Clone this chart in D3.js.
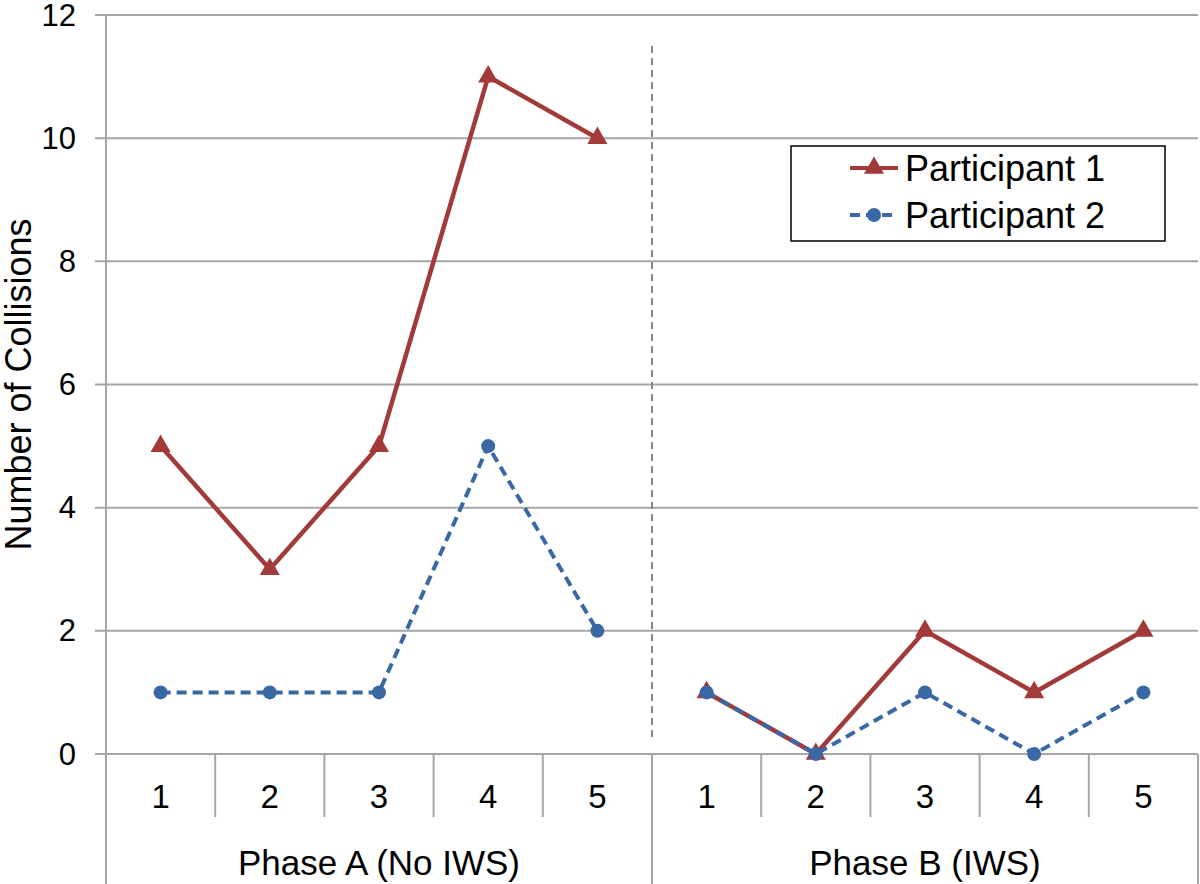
<!DOCTYPE html>
<html>
<head>
<meta charset="utf-8">
<script src="https://cdn.jsdelivr.net/npm/d3@7"></script>
<style>
  html, body { margin: 0; padding: 0; background: #fff; }
  svg { display: block; font-family: "Liberation Sans", Arial, Helvetica, sans-serif; }
</style>
</head>
<body>
<svg id="chart" width="1200" height="884"></svg>
<script>
// ---- Data ----
const phases = ["Phase A (No IWS)", "Phase B (IWS)"];
const sessions = ["1", "2", "3", "4", "5"];
const participant1A = [5, 3, 5, 11, 10];
const participant1B = [1, 0, 2, 1, 2];
const participant2A = [1, 1, 1, 5, 2];
const participant2B = [1, 0, 1, 0, 1];
const seriesNames = ["Participant 1", "Participant 2"];
const yTicks = [0, 2, 4, 6, 8, 10, 12];
const yTitle = "Number of Collisions";

(function () {
// ---- Layout ----
const W = 1200, H = 884;
const pLeft = 106, pRight = 1198, pTop = 15, pBottom = 754;
const red = "#a33a3a", blue = "#3a68a4", grid = "#a6a6a6";

const svg = d3.select("#chart");

const keys = [];
phases.forEach((p, pi) => sessions.forEach(s => keys.push(pi + "-" + s)));

const x = d3.scaleBand().domain(keys).range([pLeft, pRight]).padding(0);
const xPhase = d3.scaleBand().domain(phases).range([pLeft, pRight]).padding(0);
const y = d3.scaleLinear().domain([0, 12]).range([pBottom, pTop]);

// gridlines + y ticks
svg.append("g").selectAll("line").data(yTicks).join("line")
  .attr("x1", pLeft - 11).attr("x2", pRight)
  .attr("y1", d => y(d)).attr("y2", d => y(d))
  .attr("stroke", grid).attr("stroke-width", 2);

svg.append("g").selectAll("text").data(yTicks).join("text")
  .attr("x", 76).attr("y", d => y(d)).attr("dy", "0.34em")
  .attr("text-anchor", "end").attr("font-size", 31).attr("fill", "#000")
  .text(d => d);

// left axis line
svg.append("line").attr("x1", pLeft).attr("x2", pLeft).attr("y1", pTop).attr("y2", H)
  .attr("stroke", grid).attr("stroke-width", 2);

// category separators below axis
const catBounds = [];
phases.forEach((p, pi) => sessions.forEach((s, si) => { if (si > 0) catBounds.push(x(pi + "-" + s)); }));
svg.append("g").selectAll("line").data(catBounds).join("line")
  .attr("x1", d => d).attr("x2", d => d).attr("y1", pBottom).attr("y2", 817)
  .attr("stroke", grid).attr("stroke-width", 2);

// phase separators
const phaseBounds = phases.map(p => xPhase(p) + xPhase.bandwidth());
svg.append("g").selectAll("line").data(phaseBounds).join("line")
  .attr("x1", d => d).attr("x2", d => d).attr("y1", pBottom).attr("y2", H)
  .attr("stroke", grid).attr("stroke-width", 2);

// category labels
svg.append("g").selectAll("text").data(keys).join("text")
  .attr("x", d => x(d) + x.bandwidth() / 2).attr("y", 808)
  .attr("text-anchor", "middle").attr("font-size", 33).attr("fill", "#000")
  .text(d => d.split("-")[1]);

// phase labels
svg.append("g").selectAll("text").data(phases).join("text")
  .attr("x", d => xPhase(d) + xPhase.bandwidth() / 2).attr("y", 875)
  .attr("text-anchor", "middle").attr("font-size", 35).attr("fill", "#000")
  .text(d => d);

// y title
svg.append("text")
  .attr("transform", `translate(31, ${(pTop + pBottom) / 2}) rotate(-90)`)
  .attr("text-anchor", "middle").attr("font-size", 36).attr("fill", "#000")
  .text(yTitle);

// phase divider (dashed)
const divX = xPhase(phases[1]);
svg.append("line").attr("x1", divX).attr("x2", divX).attr("y1", 46).attr("y2", 742)
  .attr("stroke", "#888").attr("stroke-width", 2).attr("stroke-dasharray", "7,5");

// series
const cx = (pi, i) => x(pi + "-" + sessions[i]) + x.bandwidth() / 2;
const line = d3.line().x(d => d[0]).y(d => y(d[1]));
const triangle = d3.symbol().type(d3.symbolTriangle).size(175);

const p1 = [participant1A, participant1B];
const p2 = [participant2A, participant2B];

// Participant 1
p1.forEach((vals, pi) => {
  const pts = vals.map((v, i) => [cx(pi, i), v]);
  svg.append("path").attr("d", line(pts)).attr("fill", "none")
    .attr("stroke", red).attr("stroke-width", 4.5).attr("stroke-linejoin", "round");
});
p1.forEach((vals, pi) => {
  svg.append("g").selectAll("path").data(vals).join("path")
    .attr("d", triangle())
    .attr("transform", (v, i) => `translate(${cx(pi, i)},${y(v)})`)
    .attr("fill", red);
});

// Participant 2
p2.forEach((vals, pi) => {
  const pts = vals.map((v, i) => [cx(pi, i), v]);
  svg.append("path").attr("d", line(pts)).attr("fill", "none")
    .attr("stroke", blue).attr("stroke-width", 4).attr("stroke-dasharray", "10,6");
});
p2.forEach((vals, pi) => {
  svg.append("g").selectAll("circle").data(vals).join("circle")
    .attr("cx", (v, i) => cx(pi, i)).attr("cy", v => y(v)).attr("r", 7)
    .attr("fill", blue);
});

// legend
const lg = svg.append("g");
lg.append("rect").attr("x", 791).attr("y", 146).attr("width", 374).attr("height", 95)
  .attr("fill", "#fff").attr("stroke", "#000").attr("stroke-width", 1.5);
const rows = [168, 215];
lg.append("line").attr("x1", 850).attr("x2", 898).attr("y1", rows[0]).attr("y2", rows[0])
  .attr("stroke", red).attr("stroke-width", 4);
lg.append("path").attr("d", triangle()).attr("transform", `translate(874,${rows[0]})`).attr("fill", red);
lg.append("text").attr("x", 905).attr("y", rows[0] + 13).attr("font-size", 36).text(seriesNames[0]);
lg.append("line").attr("x1", 850).attr("x2", 898).attr("y1", rows[1]).attr("y2", rows[1])
  .attr("stroke", blue).attr("stroke-width", 4).attr("stroke-dasharray", "10,6");
lg.append("circle").attr("cx", 874).attr("cy", rows[1]).attr("r", 7).attr("fill", blue);
lg.append("text").attr("x", 905).attr("y", rows[1] + 13).attr("font-size", 36).text(seriesNames[1]);
})();
</script>
</body>
</html>
